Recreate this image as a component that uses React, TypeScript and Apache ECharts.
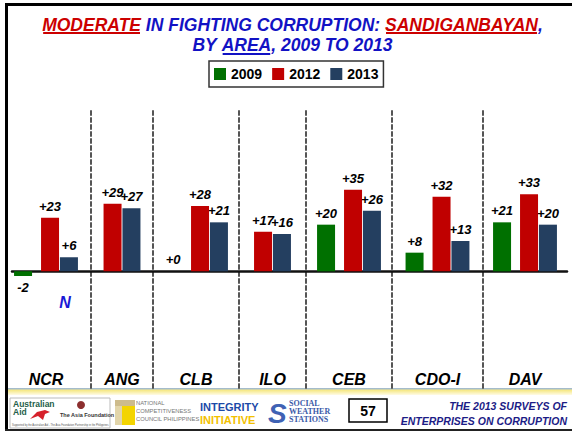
import React, { useEffect, useRef } from 'react';
import * as echarts from 'echarts';

// ---- data ----
const categories = ['NCR', 'ANG', 'CLB', 'ILO', 'CEB', 'CDO-I', 'DAV'];
const years = ['2009', '2012', '2013'];
const v2009: (number | null)[] = [-2, null, 0, null, 20, 8, 21];
const v2012: number[] = [23, 29, 28, 17, 35, 32, 33];
const v2013: number[] = [6, 27, 21, 16, 26, 13, 20];
const yMin = -50;
const yMax = 70;

// ---- layout / style ----
const FONT = "Arial, 'Liberation Sans', sans-serif";
const SERIF = "'Liberation Serif', 'DejaVu Serif', serif";
const GREEN = '#007000';
const RED = '#c00000';
const NAVY = '#243f60';
const TBLUE = '#1212c4';
const TRED = '#cc0000';
const catBounds: [number, number][] = [
  [8, 76], [91, 62], [153, 86], [239, 67], [306, 86], [392, 91], [483, 84],
];
const GRID_TOP = 108;
const GRID_H = 280;

function measure(t: string, font: string): number {
  const c = document.createElement('canvas').getContext('2d');
  if (!c) return t.length * 10;
  c.font = font;
  return c.measureText(t).width;
}

type Seg = { t: string; c: string; u?: boolean };
function titleLine(segs: Seg[], cx: number, cy: number, uy: number, size: number): any[] {
  const font = `italic bold ${size}px ${FONT}`;
  const widths = segs.map((s) => measure(s.t, font));
  const total = widths.reduce((a, b) => a + b, 0);
  let x = cx - total / 2;
  const out: any[] = [];
  segs.forEach((s, i) => {
    out.push({
      type: 'text',
      x,
      y: cy,
      style: {
        text: s.t,
        fill: s.c,
        font,
        align: 'left',
        verticalAlign: 'middle',
        textAlign: 'left',
        textVerticalAlign: 'middle',
      },
    });
    if (s.u) {
      out.push({ type: 'rect', shape: { x: x + 1, y: uy, width: widths[i] - 2, height: 2 }, style: { fill: s.c } });
    }
    x += widths[i];
  });
  return out;
}

function txt(text: string, x: number, y: number, size: number, fill: string, opts: any = {}) {
  return {
    type: 'text',
    x,
    y,
    style: {
      text,
      fill,
      fontSize: size,
      fontFamily: opts.family || FONT,
      fontWeight: opts.weight || 'normal',
      fontStyle: opts.style || 'normal',
      align: opts.align || 'left',
      verticalAlign: 'middle',
      textAlign: opts.align || 'left',
      textVerticalAlign: 'middle',
    },
  };
}

const labelFmt = (p: any) => {
  const v = Array.isArray(p.value) ? p.value[1] : p.value;
  return v >= 0 ? '+' + v : String(v);
};

export default function App() {
  const ref = useRef<HTMLDivElement>(null);
  useEffect(() => {
    if (!ref.current) return;
    const chart = echarts.init(ref.current, undefined, { renderer: 'svg' });

    // base grid: carries the zero line across the whole plot
    const grids: any[] = [{ left: 12, width: 555, top: GRID_TOP, height: GRID_H }];
    const xAxes: any[] = [
      {
        gridIndex: 0,
        type: 'category',
        data: [''],
        axisLine: { show: true, onZero: true, lineStyle: { color: '#111', width: 2.5 } },
        axisTick: { show: false },
        axisLabel: { show: false },
        splitLine: { show: false },
      },
    ];
    const yAxes: any[] = [
      {
        gridIndex: 0,
        type: 'value',
        min: yMin,
        max: yMax,
        axisLine: { show: false },
        axisTick: { show: false },
        axisLabel: { show: false },
        splitLine: { show: false },
      },
    ];
    const series: any[] = [
      {
        type: 'bar',
        name: '_base',
        xAxisIndex: 0,
        yAxisIndex: 0,
        silent: true,
        data: [null],
      },
    ];

    const labelStyle = {
      show: true,
      position: 'top',
      distance: 5,
      formatter: labelFmt,
      color: '#000',
      fontSize: 13,
      fontWeight: 'bold',
      fontStyle: 'italic',
      fontFamily: FONT,
    };
    const mkItem = (v: number) => (v < 0 ? { value: v, label: { position: 'bottom' } } : { value: v });

    categories.forEach((cat, i) => {
      const gi = i + 1;
      const [left, width] = catBounds[i];
      grids.push({ left, width, top: GRID_TOP, height: GRID_H });
      xAxes.push({
        gridIndex: gi,
        type: 'category',
        data: [cat],
        position: 'bottom',
        axisLine: { show: false, onZero: false },
        axisTick: { show: false },
        splitLine: { show: false },
        axisLabel: {
          inside: true,
          margin: 1,
          color: '#000',
          fontSize: 16,
          fontWeight: 'bold',
          fontStyle: 'italic',
          fontFamily: FONT,
        },
      });
      yAxes.push({
        gridIndex: gi,
        type: 'value',
        min: yMin,
        max: yMax,
        axisLabel: { show: false },
        axisTick: { show: false },
        splitLine: { show: false },
        axisLine: { show: i > 0, lineStyle: { color: '#555', width: 2, type: [4, 3] } },
      });
      const g = v2009[i];
      if (g !== null) {
        series.push({
          type: 'bar', name: years[0], xAxisIndex: gi, yAxisIndex: gi, barWidth: 18, barGap: '5%',
          itemStyle: { color: GREEN }, label: labelStyle, data: [mkItem(g)],
        });
        series.push({
          type: 'bar', name: '_gap', xAxisIndex: gi, yAxisIndex: gi, barWidth: 7.7, barGap: '5%',
          silent: true, data: [null],
        });
      }
      series.push({
        type: 'bar', name: years[1], xAxisIndex: gi, yAxisIndex: gi, barWidth: 18, barGap: '5%',
        itemStyle: { color: RED }, label: labelStyle, data: [mkItem(v2012[i])],
      });
      series.push({
        type: 'bar', name: years[2], xAxisIndex: gi, yAxisIndex: gi, barWidth: 18, barGap: '5%',
        itemStyle: { color: NAVY }, label: labelStyle, data: [mkItem(v2013[i])],
      });
    });

    const graphics: any[] = [
      // slide frame
      { type: 'rect', shape: { x: 5, y: 3, width: 567, height: 3 }, style: { fill: '#000' } },
      { type: 'rect', shape: { x: 5, y: 3, width: 3, height: 428 }, style: { fill: '#000' } },
      { type: 'rect', shape: { x: 5, y: 429, width: 567, height: 2 }, style: { fill: '#222' } },
      // title
      ...titleLine(
        [
          { t: 'MODERATE', c: TRED, u: true },
          { t: ' IN FIGHTING CORRUPTION: ', c: TBLUE },
          { t: 'SANDIGANBAYAN', c: TRED, u: true },
          { t: ',', c: TBLUE },
        ],
        292.5, 24.5, 32, 17.5,
      ),
      ...titleLine(
        [
          { t: 'BY ', c: TBLUE },
          { t: 'AREA', c: TBLUE, u: true },
          { t: ', 2009 TO 2013', c: TBLUE },
        ],
        292.5, 45, 53, 17.5,
      ),
      // N annotation
      txt('N', 65, 302, 16, '#1a1ad6', { weight: 'bold', style: 'italic', align: 'center' }),
      // footer strip
      {
        type: 'rect',
        shape: { x: 8, y: 388, width: 564, height: 7 },
        style: {
          fill: new echarts.graphic.LinearGradient(0, 0, 0, 1, [
            { offset: 0, color: '#8fb0dc' },
            { offset: 0.35, color: '#f6e98a' },
            { offset: 1, color: '#fffbe6' },
          ]),
        },
      },
      // Australian Aid box
      { type: 'rect', shape: { x: 10, y: 398, width: 100, height: 30 }, style: { fill: '#fff', stroke: '#bbb', lineWidth: 1 } },
      txt('Australian', 13, 403.5, 8.5, '#24604a', { weight: 'bold' }),
      txt('Aid', 13, 412, 8.5, '#24604a', { weight: 'bold' }),
      {
        type: 'polygon',
        shape: { points: [[30, 419], [37, 412], [45, 410], [50, 412], [45, 414], [43, 420], [38, 416]] },
        style: { fill: '#d6202a' },
      },
      { type: 'circle', shape: { cx: 81, cy: 405, r: 4 }, style: { fill: '#8c2f2f' } },
      txt('The Asia Foundation', 60, 415, 5.5, '#333', { weight: 'bold' }),
      txt('Supported by the Australian Aid - The Asia Foundation Partnership in the Philippines', 12, 425.5, 2.6, '#555'),
      // NCC
      { type: 'rect', shape: { x: 115, y: 400, width: 20, height: 6 }, style: { fill: '#cdbb8c' } },
      { type: 'rect', shape: { x: 115, y: 406, width: 7, height: 19 }, style: { fill: '#e2d5aa' } },
      { type: 'rect', shape: { x: 122, y: 406, width: 13, height: 19 }, style: { fill: '#f3d400' } },
      txt('NATIONAL', 136, 403, 5.8, '#777'),
      txt('COMPETITIVENESS', 136, 411, 5.8, '#777'),
      txt('COUNCIL PHILIPPINES', 136, 419, 5.8, '#777'),
      // Integrity Initiative
      txt('INTEGRITY', 200, 407, 11, '#1c4aa8', { weight: 'bold' }),
      txt('INITIATIVE', 200, 420, 11, '#f2c000', { weight: 'bold' }),
      // SWS
      txt('S', 268, 413, 28, '#3f62b4', { weight: 'bold', style: 'italic' }),
      txt('SOCIAL', 289, 403, 8, '#3a5aa8', { weight: 'bold', family: SERIF }),
      txt('WEATHER', 289, 411, 8, '#3a5aa8', { weight: 'bold', family: SERIF }),
      txt('STATIONS', 289, 419, 8, '#3a5aa8', { weight: 'bold', family: SERIF }),
      // page number
      { type: 'rect', shape: { x: 349, y: 399, width: 38, height: 23 }, style: { fill: '#fff', stroke: '#000', lineWidth: 1.5 } },
      txt('57', 368, 411, 14, '#000', { weight: 'bold', align: 'center' }),
      // footer title
      txt('THE 2013 SURVEYS OF', 567, 406, 10.5, '#1c1c86', { weight: 'bold', style: 'italic', align: 'right' }),
      txt('ENTERPRISES ON CORRUPTION', 567, 421, 10.5, '#1c1c86', { weight: 'bold', style: 'italic', align: 'right' }),
    ];

    chart.setOption({
      animation: false,
      backgroundColor: '#fff',
      legend: {
        data: years,
        left: 209,
        top: 61,
        itemWidth: 12,
        itemHeight: 12,
        itemGap: 10,
        icon: 'rect',
        padding: [6, 5, 6, 5],
        borderColor: '#333',
        borderWidth: 1.5,
        textStyle: { fontSize: 14, fontWeight: 'bold', fontFamily: FONT, color: '#000' },
      },
      grid: grids,
      xAxis: xAxes,
      yAxis: yAxes,
      series,
      graphic: graphics,
    });
    return () => chart.dispose();
  }, []);
  return <div ref={ref} style={{ position: 'fixed', left: 0, top: 0, width: 572, height: 431 }} />;
}
